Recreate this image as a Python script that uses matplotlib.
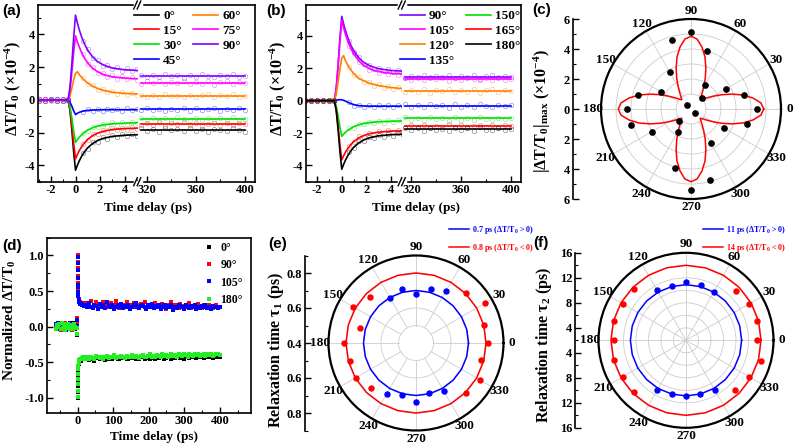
import numpy as np
import matplotlib
matplotlib.use("Agg")
import matplotlib.pyplot as plt
from matplotlib.lines import Line2D
from matplotlib.ticker import MultipleLocator, FixedLocator

plt.rcParams.update({
    "font.family": "Liberation Serif",
    "font.weight": "bold",
    "axes.labelweight": "bold",
    "axes.unicode_minus": False,
    "mathtext.fontset": "custom",
    "mathtext.rm": "Liberation Serif:bold",
    "mathtext.it": "Liberation Serif:italic:bold",
    "mathtext.bf": "Liberation Serif:bold",
    "axes.linewidth": 1.2,
})

W, H = 798, 447
TICK = 9
XLAB = 9.5
YLAB = 11.5

# ---------------- data: (a) and (b) transients ----------------
t_fit = [-3, -0.6, -0.45, -0.3, -0.15, 0, 0.15, 0.3, 0.5, 0.75, 1.0, 1.4, 1.8, 2.3, 3.0, 4.0, 5.0]
t_scat = [-3.0, -2.5, -2.0, -1.5, -1.0, -0.6, 0.6, 1.0, 1.4, 1.8, 2.2, 2.6, 3.0, 3.4, 3.8, 4.2, 4.6, 5.0]
t_long = [315, 400]

a_labels = ["0°", "15°", "30°", "45°", "60°", "75°", "90°"]
a_colors = ["black", "red", "#00e000", "blue", "#ff8000", "#ff00ff", "#8000ff"]
a_fit = [
    [0, 0, -0.65, -1.81, -3.18, -4.30, -4.00, -3.74, -3.44, -3.15, -2.92, -2.66, -2.48, -2.34, -2.23, -2.16, -2.13],
    [0, 0, -0.54, -1.51, -2.66, -3.60, -3.34, -3.11, -2.86, -2.61, -2.41, -2.18, -2.03, -1.91, -1.81, -1.75, -1.73],
    [0, 0, -0.39, -1.09, -1.92, -2.60, -2.43, -2.29, -2.13, -1.97, -1.84, -1.70, -1.60, -1.52, -1.46, -1.42, -1.40],
    [0, 0, -0.14, -0.38, -0.67, -0.90, -0.82, -0.76, -0.71, -0.67, -0.64, -0.62, -0.61, -0.60, -0.60, -0.60, -0.60],
    [0, 0, 0.25, 0.70, 1.22, 1.62, 1.72, 1.55, 1.38, 1.18, 1.02, 0.84, 0.70, 0.58, 0.47, 0.40, 0.36],
    [0, 0, 0.59, 1.65, 2.90, 3.92, 3.55, 3.24, 2.88, 2.53, 2.25, 1.93, 1.72, 1.54, 1.41, 1.33, 1.29],
    [0, 0, 0.78, 2.18, 3.83, 5.18, 4.71, 4.30, 3.84, 3.39, 3.03, 2.62, 2.34, 2.12, 1.95, 1.84, 1.80],
]
a_scat = [
    [0.04, -0.06, 0.03, -0.05, 0.06, -0.03, -3.22, -2.98, -2.58, -2.55, -2.28, -2.36, -2.15, -2.27, -2.10, -2.22, -2.08, -2.19],
    [-0.05, 0.04, -0.02, 0.06, -0.04, 0.03, -2.68, -2.47, -2.10, -2.09, -1.85, -1.94, -1.74, -1.86, -1.70, -1.82, -1.66, -1.78],
    [0.03, -0.04, 0.05, -0.03, 0.02, -0.05, -2.00, -1.90, -1.63, -1.66, -1.45, -1.57, -1.38, -1.51, -1.35, -1.47, -1.33, -1.44],
    [-0.04, 0.05, -0.03, 0.04, -0.05, 0.02, -0.74, -0.58, -0.68, -0.55, -0.66, -0.53, -0.64, -0.57, -0.67, -0.52, -0.63, -0.58],
    [0.05, -0.03, 0.04, -0.05, 0.03, -0.02, 1.36, 0.95, 0.90, 0.63, 0.67, 0.46, 0.55, 0.38, 0.48, 0.32, 0.43, 0.30],
    [-0.03, 0.05, -0.04, 0.03, -0.05, 0.04, 2.80, 2.18, 2.01, 1.64, 1.66, 1.40, 1.50, 1.30, 1.44, 1.25, 1.39, 1.22],
    [0.04, -0.05, 0.03, -0.04, 0.05, -0.03, 3.58, 3.10, 2.54, 2.43, 2.08, 2.12, 1.86, 1.98, 1.78, 1.92, 1.74, 1.88],
]
a_levels = [-1.82, -1.47, -1.17, -0.58, 0.25, 1.05, 1.47]
a_scat_long = [
    [-1.74, -1.90, -1.79, -1.95, -1.72, -1.86, -1.80, -1.93, -1.71, -1.88, -1.77, -1.96, -1.75, -1.85, -1.91, -1.73, -1.87, -1.94],
    [-1.55, -1.40, -1.52, -1.38, -1.58, -1.44, -1.50, -1.36, -1.53, -1.42, -1.57, -1.45, -1.39, -1.54, -1.43, -1.56, -1.41, -1.49],
    [-1.10, -1.25, -1.08, -1.22, -1.13, -1.27, -1.06, -1.19, -1.24, -1.09, -1.21, -1.12, -1.28, -1.11, -1.20, -1.07, -1.23, -1.15],
    [-0.64, -0.50, -0.61, -0.53, -0.67, -0.55, -0.60, -0.49, -0.65, -0.52, -0.62, -0.56, -0.51, -0.66, -0.54, -0.63, -0.48, -0.59],
    [0.31, 0.17, 0.28, 0.20, 0.34, 0.22, 0.26, 0.15, 0.32, 0.19, 0.29, 0.36, 0.18, 0.27, 0.21, 0.33, 0.16, 0.24],
    [0.98, 1.13, 1.01, 1.16, 0.95, 1.10, 1.04, 1.18, 0.97, 1.12, 1.00, 1.15, 0.94, 1.08, 1.14, 0.99, 1.11, 1.03],
    [1.55, 1.40, 1.52, 1.38, 1.58, 1.44, 1.50, 1.36, 1.53, 1.42, 1.57, 1.45, 1.39, 1.54, 1.43, 1.56, 1.41, 1.49],
]

b_labels = ["90°", "105°", "120°", "135°", "150°", "165°", "180°"]
b_colors = ["#8000ff", "#ff00ff", "#ff8000", "blue", "#00e000", "red", "black"]
b_fit = [
    [0, 0, 0.78, 2.18, 3.85, 5.20, 4.73, 4.32, 3.85, 3.40, 3.04, 2.63, 2.35, 2.14, 1.97, 1.86, 1.82],
    [0, 0, 0.74, 2.08, 3.66, 4.95, 4.49, 4.09, 3.64, 3.19, 2.85, 2.44, 2.17, 1.95, 1.79, 1.68, 1.64],
    [0, 0, 0.40, 1.12, 1.96, 2.62, 2.78, 2.46, 2.17, 1.88, 1.64, 1.37, 1.22, 1.07, 0.93, 0.81, 0.74],
    [0, 0, 0.02, 0.05, 0.06, 0.05, 0.02, -0.03, -0.10, -0.18, -0.25, -0.31, -0.33, -0.34, -0.34, -0.34, -0.34],
    [0, 0, -0.33, -0.92, -1.63, -2.20, -2.07, -1.95, -1.83, -1.70, -1.60, -1.48, -1.41, -1.35, -1.30, -1.27, -1.25],
    [0, 0, -0.55, -1.53, -2.70, -3.65, -3.40, -3.18, -2.94, -2.70, -2.51, -2.29, -2.15, -2.03, -1.94, -1.88, -1.86],
    [0, 0, -0.63, -1.78, -3.13, -4.23, -3.93, -3.67, -3.38, -3.08, -2.86, -2.60, -2.42, -2.28, -2.17, -2.10, -2.07],
]
b_scat = [
    [0.03, -0.04, 0.05, -0.03, 0.04, -0.05, 3.70, 3.00, 2.68, 2.28, 2.22, 1.96, 2.00, 1.83, 1.93, 1.76, 1.88, 1.74],
    [-0.04, 0.03, -0.05, 0.04, -0.03, 0.05, 3.40, 2.92, 2.37, 2.24, 1.92, 1.95, 1.72, 1.80, 1.64, 1.76, 1.58, 1.70],
    [0.04, -0.03, 0.05, -0.04, 0.03, -0.02, 2.10, 1.58, 1.45, 1.15, 1.18, 0.93, 1.00, 0.81, 0.92, 0.73, 0.85, 0.68],
    [-0.03, 0.05, -0.04, 0.03, -0.05, 0.04, -0.08, -0.30, -0.25, -0.39, -0.28, -0.41, -0.27, -0.38, -0.29, -0.42, -0.26, -0.37],
    [0.05, -0.04, 0.03, -0.05, 0.04, -0.03, -1.71, -1.66, -1.41, -1.47, -1.29, -1.40, -1.23, -1.35, -1.20, -1.32, -1.18, -1.29],
    [-0.04, 0.05, -0.03, 0.04, -0.05, 0.03, -2.77, -2.58, -2.21, -2.22, -1.97, -2.10, -1.86, -1.99, -1.82, -1.96, -1.80, -1.92],
    [0.03, -0.05, 0.04, -0.03, 0.05, -0.04, -3.17, -2.93, -2.52, -2.49, -2.22, -2.30, -2.09, -2.22, -2.03, -2.18, -2.00, -2.14],
]
b_levels = [1.47, 1.35, 0.60, -0.30, -1.10, -1.58, -1.75]
b_scat_long = [
    [1.40, 1.55, 1.43, 1.58, 1.37, 1.52, 1.46, 1.60, 1.39, 1.54, 1.42, 1.57, 1.36, 1.50, 1.56, 1.41, 1.53, 1.45],
    [1.42, 1.27, 1.39, 1.25, 1.45, 1.31, 1.37, 1.23, 1.40, 1.29, 1.44, 1.32, 1.26, 1.41, 1.30, 1.43, 1.28, 1.36],
    [0.53, 0.68, 0.56, 0.71, 0.50, 0.65, 0.59, 0.73, 0.52, 0.67, 0.55, 0.70, 0.49, 0.63, 0.69, 0.54, 0.66, 0.58],
    [-0.23, -0.38, -0.26, -0.41, -0.21, -0.35, -0.29, -0.43, -0.22, -0.37, -0.25, -0.40, -0.20, -0.33, -0.39, -0.24, -0.36, -0.28],
    [-1.03, -1.18, -1.06, -1.21, -1.01, -1.15, -1.09, -1.23, -1.02, -1.17, -1.05, -1.20, -1.00, -1.13, -1.19, -1.04, -1.16, -1.08],
    [-1.65, -1.50, -1.62, -1.48, -1.68, -1.54, -1.60, -1.46, -1.63, -1.52, -1.67, -1.55, -1.49, -1.64, -1.53, -1.66, -1.51, -1.59],
    [-1.68, -1.83, -1.71, -1.86, -1.66, -1.80, -1.74, -1.88, -1.67, -1.82, -1.70, -1.85, -1.65, -1.78, -1.84, -1.69, -1.81, -1.73],
]

# ---------------- data: (c) polar |dT/T|max ----------------
angles15 = list(range(0, 360, 15))
c_dots = [4.40, 3.68, 2.68, 0.99, 1.84, 4.00, 5.16, 4.77, 2.85, 0.35, 2.30, 3.65,
          4.27, 4.16, 3.03, 1.11, 1.74, 4.07, 5.42, 4.92, 2.62, 0.39, 2.53, 3.89]
# fitted curve for one quarter (0..90 deg, every 5 deg); four-fold symmetric
c_fit_quarter = [4.85, 4.68, 4.20, 3.60, 2.90, 2.25, 1.70, 1.30, 1.02, 0.87,
                 1.02, 1.30, 1.70, 2.25, 2.90, 3.60, 4.20, 4.68, 4.85]

# ---------------- data: (d) normalized transients (values x100) ----------------
d_labels = ["0°", "90°", "105°", "180°"]
d_colors = ["black", "red", "blue", "#22ee22"]
t_spike = [-0.4, -0.2, 0, 0.2, 0.4, 0.7, 1, 1.5, 2, 3, 4, 5, 7, 9, 12, 15, 19]
d_pre = [
    [2, -3, 4, -1, 3, -5, 1, 5, -2, 3, -4, 2, -1, 4, -3, 1, -2, 5, -4, 2],
    [-2, 4, -3, 1, -5, 3, -1, 2, 5, -4, 1, -3, 4, -2, 3, -5, 2, -1, 3, 6],
    [3, -1, 5, -4, 2, -2, 4, -3, 1, -5, 3, 2, -4, 5, -1, 3, -3, 4, -2, 1],
    [-4, 2, -1, 3, -3, 5, -2, 1, -5, 4, -1, 3, -2, -4, 2, 1, -3, 4, -1, -2],
]
d_spike = [
    [-12, -60, -100, -92, -83, -75, -68, -61, -57, -52, -50, -49, -47, -48, -45, -46, -44],
    [12, 58, 100, 91, 82, 71, 61, 50, 45, 39, 37, 35, 34, 32, 33, 30, 31],
    [10, 55, 98, 90, 80, 69, 59, 49, 43, 38, 35, 34, 32, 33, 30, 31, 29],
    [-10, -56, -99, -90, -81, -73, -66, -60, -55, -51, -49, -47, -46, -45, -44, -43, -43],
]
d_long = [
    [-46, -44, -47, -43, -45, -48, -44, -42, -46, -45, -43, -47, -44, -46, -42, -45, -43, -44, -46, -45,
     -42, -44, -43, -46, -45, -43, -44, -42, -45, -44, -46, -43, -42, -45, -44, -43, -46, -42, -44, -45,
     -43, -44, -42, -43, -45, -44, -42, -43, -45, -43, -44, -42, -41, -44, -43, -45, -42, -43, -44, -41,
     -43, -42, -44, -43, -41, -42, -44, -43, -42, -41, -43, -44, -42, -43, -41, -42],
    [33, 29, 31, 36, 28, 30, 34, 27, 32, 29, 35, 30, 27, 31, 33, 28, 30, 36, 29, 26,
     32, 30, 28, 34, 29, 27, 31, 33, 28, 30, 26, 32, 29, 35, 27, 30, 28, 31, 26, 33,
     29, 27, 30, 32, 28, 25, 31, 29, 34, 27, 30, 28, 26, 32, 29, 27, 31, 28, 33, 26,
     29, 30, 27, 32, 28, 26, 30, 29, 27, 31, 28, 26, 29, 30, 27, 28],
    [30, 27, 33, 28, 26, 31, 29, 25, 32, 28, 30, 26, 34, 29, 27, 31, 25, 28, 30, 27,
     32, 26, 29, 28, 31, 25, 27, 30, 33, 28, 26, 29, 31, 27, 25, 30, 28, 32, 26, 29,
     27, 30, 25, 28, 31, 26, 29, 27, 30, 24, 28, 26, 31, 29, 27, 25, 30, 28, 26, 29,
     27, 31, 25, 28, 26, 29, 27, 30, 26, 28, 25, 29, 27, 28, 26, 27],
    [-45, -43, -46, -42, -44, -45, -41, -43, -44, -42, -45, -43, -41, -44, -42, -43, -40, -44, -42, -43,
     -41, -42, -44, -41, -43, -42, -40, -43, -41, -42, -44, -41, -40, -42, -43, -41, -39, -42, -41, -43,
     -40, -41, -42, -39, -41, -40, -42, -41, -39, -41, -40, -42, -39, -40, -41, -38, -40, -42, -39, -40,
     -41, -39, -40, -38, -41, -40, -39, -41, -38, -40, -39, -41, -40, -38, -39, -40],
]

# ---------------- data: (e), (f) relaxation times ----------------
pos_angles = [60, 75, 90, 105, 120, 240, 255, 270, 285, 300]
neg_angles = [0, 15, 30, 45, 135, 150, 165, 180, 195, 210, 225, 315, 330, 345]
tau1_pos = [0.741, 0.721, 0.678, 0.718, 0.694, 0.736, 0.706, 0.739, 0.696, 0.717]
tau1_neg = [0.811, 0.802, 0.852, 0.801, 0.775, 0.815, 0.733, 0.813, 0.792, 0.795, 0.766, 0.808, 0.822, 0.782]
tau2_pos = [10.89, 11.22, 11.26, 10.93, 11.22, 11.13, 10.93, 10.94, 10.93, 11.13]
tau2_neg = [13.33, 13.76, 13.73, 13.24, 13.70, 13.72, 13.90, 13.54, 13.90, 13.72, 13.66, 13.17, 13.68, 14.50]
tau1_fit = (0.7, 0.8)
tau2_fit = (10.9, 14.0)


fig = plt.figure(figsize=(W / 100, H / 100), dpi=100)


def px_axes(x0, y0, x1, y1, **kw):
    return fig.add_axes([x0 / W, 1 - y1 / H, (x1 - x0) / W, (y1 - y0) / H], **kw)


def fig_line(xs, ys, **kw):
    fig.add_artist(Line2D([x / W for x in xs], [1 - y / H for y in ys],
                          transform=fig.transFigure, **kw))


def rect_ticks(ax):
    ax.tick_params(which="both", direction="in", top=False, right=False, labelsize=TICK, pad=2)
    ax.tick_params(which="major", length=4, width=1)
    ax.tick_params(which="minor", length=2, width=0.8)


def broken_panel(x0, xb, x1, y0, y1, xlim, ylim, fits, scats, levels, scats_long,
                 colors, labels, leg_x):
    axl = px_axes(x0, y0, xb, y1)
    axr = px_axes(xb, y0, x1, y1)
    handles = []
    for fit, sc, lev, scl, c, lab in zip(fits, scats, levels, scats_long, colors, labels):
        axl.plot(t_scat, sc, "o", ms=3.2, mfc="none", mec=c, mew=0.5, alpha=0.45)
        h, = axl.plot(t_fit, fit, "-", color=c, lw=1.2, label=lab)
        axr.plot(np.linspace(315, 400, len(scl)), scl, "o", ms=3.2, mfc="none",
                 mec=c, mew=0.5, alpha=0.45)
        axr.plot(t_long, [lev, lev], "-", color=c, lw=1.2)
        handles.append(h)
    axl.set_xlim(*xlim)
    axr.set_xlim(312.4, 408.2)
    for ax in (axl, axr):
        ax.set_ylim(*ylim)
        ax.yaxis.set_major_locator(MultipleLocator(2))
        ax.yaxis.set_minor_locator(MultipleLocator(1))
        rect_ticks(ax)
    axl.set_xticks([-2, 0, 2, 4])
    axl.xaxis.set_minor_locator(MultipleLocator(1))
    axr.set_xticks([320, 360, 400])
    axr.xaxis.set_minor_locator(MultipleLocator(20))
    axl.spines["right"].set_visible(False)
    axr.spines["left"].set_visible(False)
    axr.tick_params(which="both", left=False, labelleft=False)
    # break marks
    for y in (y0, y1):
        fig_line([xb - 3, xb + 3], [y, y], color="white", lw=2.5)
        for dx in (-2.0, 1.5):
            fig_line([xb + dx - 1.8, xb + dx + 1.8], [y + 4, y - 4], color="black", lw=1.0)
    axr.legend(handles, labels, ncol=2, loc="upper left",
               bbox_to_anchor=(leg_x / W, 1 - 10 / H), bbox_transform=fig.transFigure,
               frameon=False, fontsize=9.5, handlelength=1.9, handletextpad=0.3,
               columnspacing=0.9, labelspacing=0.2, borderpad=0, borderaxespad=0)
    return axl, axr


# (a)
broken_panel(38, 137.5, 255, 5, 181.7, (-3.05, 5.04), (-5.0, 5.8),
             a_fit, a_scat, a_levels, a_scat_long, a_colors, a_labels, 134)
# (b)
broken_panel(305.5, 402, 521, 5, 181.7, (-2.95, 4.9), (-5.0, 5.9),
             b_fit, b_scat, b_levels, b_scat_long, b_colors, b_labels, 400)

ylab_dt = "ΔT/T$_0$ (×10$^{-4}$)"
for xc, xl in ((12.5, 148), (277.5, 416)):
    fig.text(xc / W, 1 - 88 / H, ylab_dt, rotation=90, ha="center", va="center", fontsize=YLAB)
    fig.text(xl / W, 1 - 208 / H, "Time delay (ps)", ha="center", va="center", fontsize=XLAB)


def polar_panel(cx, cy, rad, rlim, rgrid, spoke_from):
    ax = px_axes(cx - rad, cy - rad, cx + rad, cy + rad, projection="polar")
    ax.set_thetagrids(np.arange(0, 360, 30), [str(a) for a in range(0, 360, 30)])
    ax.grid(False)
    ax.set_yticks(rgrid)
    ax.set_yticklabels([])
    ax.yaxis.grid(True, color="#cccccc", lw=0.6)
    for a in range(0, 360, 30):
        ax.plot([np.radians(a)] * 2, [spoke_from, rlim[1]], color="#cccccc", lw=0.6, zorder=1)
    ax.spines["polar"].set_linewidth(1.6)
    ax.tick_params(axis="x", labelsize=TICK + 0.5, length=0, pad=-1)
    ax.set_ylim(*rlim)
    return ax


def radial_axis(x, y0, y1, half, major, labels, minor):
    ax = px_axes(x, y0, x + 0.5, y1)
    ax.set_ylim(-half, half)
    ax.set_xticks([])
    for s in ("top", "right", "bottom"):
        ax.spines[s].set_visible(False)
    ax.set_yticks(major)
    ax.set_yticklabels(labels)
    ax.yaxis.set_minor_locator(FixedLocator(minor))
    rect_ticks(ax)
    ax.patch.set_visible(False)
    return ax


# (c)
axc = polar_panel(691, 109, 90, (0, 6), [1, 2, 3, 4, 5], 1)
quarter = np.array(c_fit_quarter)
c_fit = np.concatenate([quarter[:-1]] * 4 + [quarter[:1]])
axc.plot(np.radians(np.arange(0, 361, 5)), c_fit, color="red", lw=1.1, zorder=3)
axc.plot(np.radians(angles15), c_dots, "o", color="black", ms=3.8, zorder=4)
axc.set_ylim(0, 6)
ticks_c = [-6, -4, -2, 0, 2, 4, 6]
radial_axis(572.7, 19, 199, 6, ticks_c, [str(abs(v)) for v in ticks_c], [-5, -3, -1, 1, 3, 5])
fig.text(542.5 / W, 1 - 111 / H, "|ΔT/T$_0$|$_{\\mathrm{max}}$ (×10$^{-4}$)", rotation=90,
         ha="center", va="center", fontsize=YLAB)

# (d)
axd = px_axes(46.7, 237.7, 250.7, 412.7)
for pre, spk, lng, c, lab in zip(d_pre, d_spike, d_long, d_colors, d_labels):
    t = np.concatenate([np.linspace(-60, -3, len(pre)), t_spike, np.linspace(22, 400, len(lng))])
    y = np.concatenate([pre, spk, lng]) / 100.0
    axd.plot(t, y, "s", ms=2.4, mew=0, color=c, label=lab)
axd.set_xlim(-87, 487)
axd.set_ylim(-1.21, 1.25)
axd.set_xticks([0, 100, 200, 300, 400])
axd.xaxis.set_minor_locator(MultipleLocator(50))
axd.set_yticks([-1.0, -0.5, 0.0, 0.5, 1.0])
axd.set_yticklabels(["-1.0", "-0.5", "0.0", "0.5", "1.0"])
axd.yaxis.set_minor_locator(MultipleLocator(0.25))
rect_ticks(axd)
axd.legend(loc="upper left", bbox_to_anchor=(204 / W, 1 - 242 / H), bbox_transform=fig.transFigure,
           frameon=False, fontsize=8.5, markerscale=1.3, handlelength=0.8, handletextpad=0.6,
           labelspacing=0.45, borderpad=0, borderaxespad=0)
fig.text(9.5 / W, 1 - 320 / H, "Normalized ΔT/T$_0$", rotation=90, ha="center", va="center", fontsize=YLAB - 0.5)
fig.text(154 / W, 1 - 437 / H, "Time delay (ps)", ha="center", va="center", fontsize=XLAB)


def tau_panel(cx, cy, rlim, rgrid, spoke_from, pos, neg, fit, leg_labels, leg_x):
    ax = polar_panel(cx, cy, 87.5, rlim, rgrid, spoke_from)
    th = np.radians(np.arange(0, 361, 15))
    hb, = ax.plot(th, np.full(len(th), fit[0]), color="blue", lw=1.1, zorder=3)
    hr, = ax.plot(th, np.full(len(th), fit[1]), color="red", lw=1.1, zorder=3)
    ax.plot(np.radians(pos_angles), pos, "o", color="blue", ms=3.6, zorder=4)
    ax.plot(np.radians(neg_angles), neg, "o", color="red", ms=3.6, zorder=4)
    ax.set_ylim(*rlim)
    ax.legend([hb, hr], leg_labels, loc="upper left", bbox_to_anchor=(leg_x / W, 1 - 223.5 / H),
              bbox_transform=fig.transFigure, frameon=False, fontsize=5.8, handlelength=2.5,
              handletextpad=0.3, labelspacing=0.8, borderpad=0, borderaxespad=0,
              labelcolor="linecolor")
    return ax


# (e)
tau_panel(416, 343, (0.4, 0.9), [0.5, 0.6, 0.7, 0.8], 0.5, tau1_pos, tau1_neg, tau1_fit,
          ["0.7 ps (ΔT/T$_0$ > 0)", "0.8 ps (ΔT/T$_0$ < 0)"], 449)
ticks_e = [-0.4, -0.2, 0, 0.2, 0.4]
radial_axis(305, 255.5, 430.5, 0.5, ticks_e, ["%.1f" % (0.4 + abs(v)) for v in ticks_e],
            [-0.5, -0.3, -0.1, 0.1, 0.3, 0.5])
fig.text(276 / W, 1 - 350 / H, "Relaxation time τ$_1$ (ps)", rotation=90, ha="center", va="center",
         fontsize=YLAB)

# (f)
tau_panel(686, 340.3, (2, 16), [4, 6, 8, 10, 12, 14], 2, tau2_pos, tau2_neg, tau2_fit,
          ["11 ps (ΔT/T$_0$ > 0)", "14 ps (ΔT/T$_0$ < 0)"], 703)
ticks_f = [-14, -10, -6, -2, 2, 6, 10, 14]
radial_axis(575, 252.8, 427.8, 14, ticks_f, [str(2 + abs(v)) for v in ticks_f],
            [-12, -8, -4, 0, 4, 8, 12])
fig.text(544 / W, 1 - 345 / H, "Relaxation time τ$_2$ (ps)", rotation=90, ha="center", va="center",
         fontsize=YLAB)

# panel letters
for lab, x, y in (("(a)", 2, 11), ("(b)", 266, 11), ("(c)", 532, 10),
                  ("(d)", 2, 246), ("(e)", 268, 244), ("(f)", 533, 243.5)):
    fig.text(x / W, 1 - y / H, lab, ha="left", va="center", fontsize=11,
             family="Liberation Sans", weight="bold")

fig.savefig("out.png", dpi=100)
